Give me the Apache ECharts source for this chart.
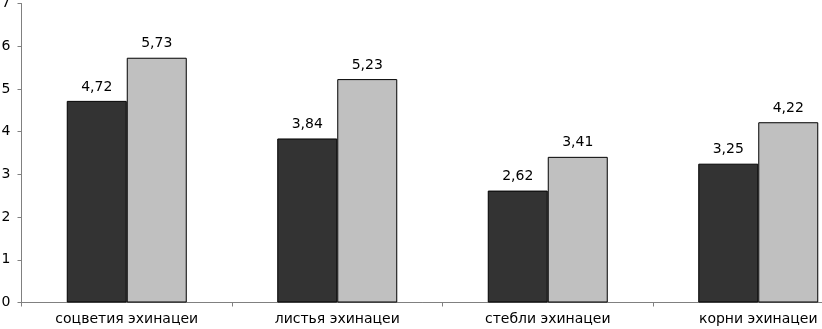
<!DOCTYPE html>
<html>
<head>
<meta charset="utf-8">
<script src="https://cdn.jsdelivr.net/npm/echarts@6/dist/echarts.min.js"></script>
<style>
  html, body { margin: 0; padding: 0; background: #fff; }
  #myChart { width: 822px; height: 329px; }
</style>
</head>
<body>
<div id="myChart"></div>
<script>
// категории и значения
const categories = ["соцветия эхинацеи", "листья эхинацеи", "стебли эхинацеи", "корни эхинацеи"];
const seriesDark = [4.72, 3.84, 2.62, 3.25];
const seriesLight = [5.73, 5.23, 3.41, 4.22];
const yTicks = [0, 1, 2, 3, 4, 5, 6, 7];

const font = "'DejaVu Sans', sans-serif";
const fmt = p => String(p.value.toFixed(2)).replace(".", ",");

let myChart = echarts.init(document.getElementById("myChart"));
let option = {
  animation: false,
  textStyle: { fontFamily: font },
  grid: {
    top: 3.5,
    left: 21.5,
    width: 842, // plot runs past the right edge, as in the source
    bottom: 26.5,
    outerBoundsMode: "none",
    containLabel: false
  },
  xAxis: {
    type: "category",
    data: categories,
    axisLine: { lineStyle: { color: "#808080", width: 1 } },
    axisTick: { show: true, length: 4, lineStyle: { color: "#808080" } },
    axisLabel: { color: "#000", fontSize: 14, fontFamily: font, margin: 10 }
  },
  yAxis: {
    type: "value",
    min: yTicks[0],
    max: yTicks[yTicks.length - 1],
    interval: 1,
    splitLine: { show: false },
    axisLine: { show: true, lineStyle: { color: "#808080", width: 1 } },
    axisTick: { show: true, length: 4, lineStyle: { color: "#808080" } },
    axisLabel: { color: "#000", fontSize: 14, fontFamily: font, margin: 11 }
  },
  series: [{
    name: "dark",
    type: "bar",
    data: seriesDark,
    barWidth: 60,
    barGap: "0%",
    itemStyle: { color: "#333333", borderColor: "#000", borderWidth: 1 },
    label: { show: true, position: "top", distance: 7, color: "#000", fontSize: 14, fontFamily: font, formatter: fmt }
  }, {
    name: "light",
    type: "bar",
    data: seriesLight,
    barWidth: 60,
    barGap: "0%",
    itemStyle: { color: "#c0c0c0", borderColor: "#000", borderWidth: 1 },
    label: { show: true, position: "top", distance: 7, color: "#000", fontSize: 14, fontFamily: font, formatter: fmt }
  }]
};
myChart.setOption(option);
</script>
</body>
</html>
